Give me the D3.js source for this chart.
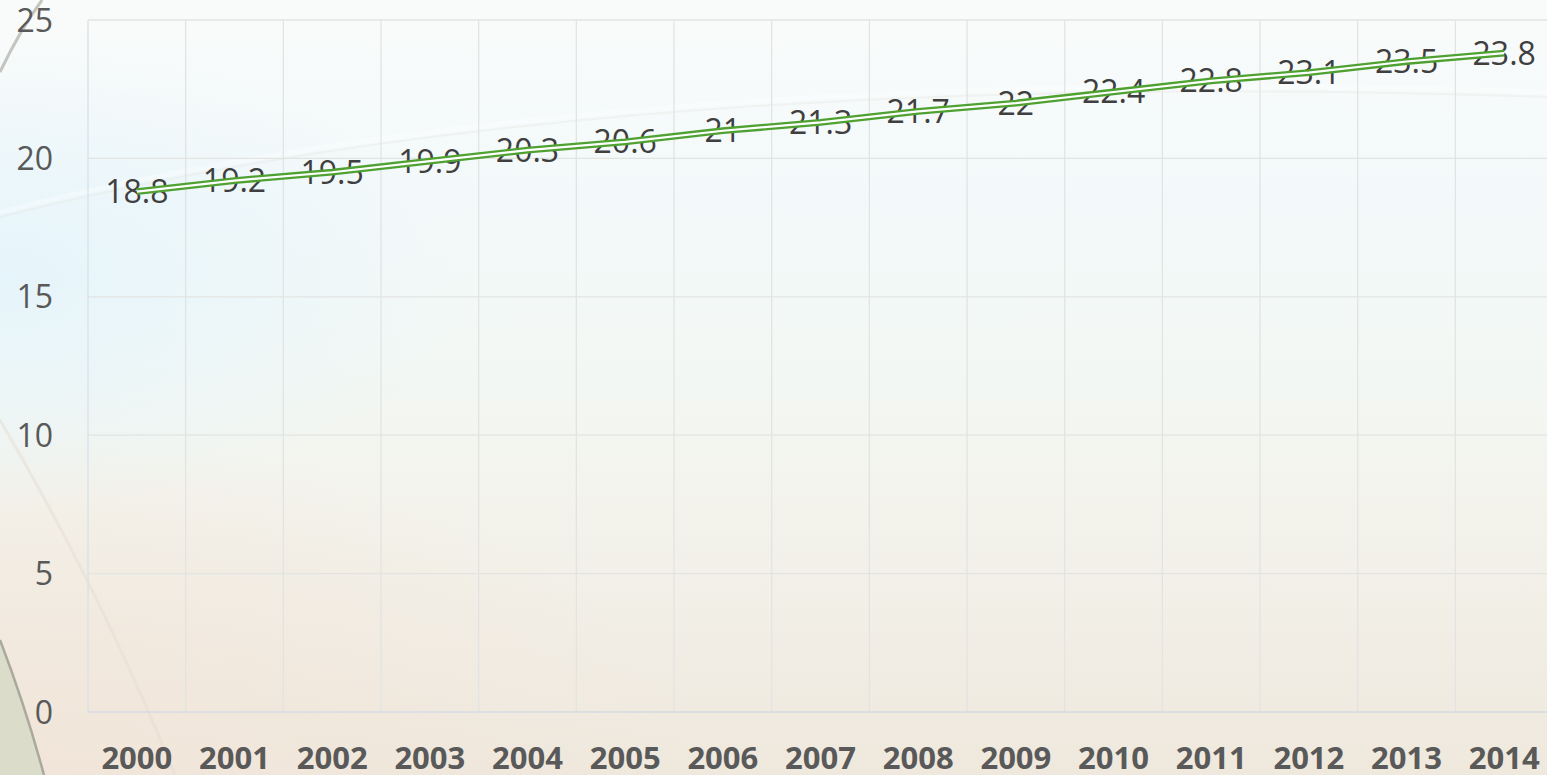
<!DOCTYPE html>
<html>
<head>
<meta charset="utf-8">
<script src="https://cdn.jsdelivr.net/npm/d3@7"></script>
<style>
  html, body { margin: 0; padding: 0; overflow: hidden; }
  svg { display: block; }
</style>
</head>
<body>
<svg id="canvas"></svg>
<script>
const years = ["2000","2001","2002","2003","2004","2005","2006","2007","2008","2009","2010","2011","2012","2013","2014"]
const values = [18.8, 19.2, 19.5, 19.9, 20.3, 20.6, 21, 21.3, 21.7, 22, 22.4, 22.8, 23.1, 23.5, 23.8]
const yTicks = [0, 5, 10, 15, 20, 25]

const width = 1547
const height = 775
const plotLeft = 88
const plotTop = 20
const plotBottom = 712
const band = 97.67

let svg = d3.select("#canvas").attr("width", width).attr("height", height)

// background, slide theme look
let defs = svg.append("defs")
let bg = defs.append("linearGradient").attr("id", "bg").attr("x1", 0).attr("y1", 0).attr("x2", 0).attr("y2", 1)
bg.append("stop").attr("offset", "0%").attr("stop-color", "#f9fbfa")
bg.append("stop").attr("offset", "25%").attr("stop-color", "#f3f9fa")
bg.append("stop").attr("offset", "45%").attr("stop-color", "#f3f8f5")
bg.append("stop").attr("offset", "65%").attr("stop-color", "#f3f3ec")
bg.append("stop").attr("offset", "100%").attr("stop-color", "#efe8dd")

let blue = defs.append("radialGradient").attr("id", "blue").attr("cx", 0).attr("cy", 0.36).attr("r", 0.3)
blue.append("stop").attr("offset", "0%").attr("stop-color", "#e4f4fb").attr("stop-opacity", 0.9)
blue.append("stop").attr("offset", "100%").attr("stop-color", "#e4f4fb").attr("stop-opacity", 0)

let warm = defs.append("radialGradient").attr("id", "warm").attr("cx", 0).attr("cy", 1).attr("r", 0.45)
warm.append("stop").attr("offset", "0%").attr("stop-color", "#f2e5d9").attr("stop-opacity", 0.9)
warm.append("stop").attr("offset", "100%").attr("stop-color", "#f2e5d9").attr("stop-opacity", 0)

svg.append("rect").attr("width", width).attr("height", height).attr("fill", "url(#bg)")
svg.append("rect").attr("width", width).attr("height", height).attr("fill", "url(#warm)")
svg.append("rect").attr("width", width).attr("height", height).attr("fill", "url(#blue)")

// decorative arcs
svg.append("path")
    .attr("d", "M0,212 Q600,60 1547,92")
    .attr("fill", "none").attr("stroke", "#ffffff").attr("stroke-width", 5).attr("opacity", 0.35)
svg.append("path")
    .attr("d", "M0,217 Q600,65 1547,97")
    .attr("fill", "none").attr("stroke", "#e4e4de").attr("stroke-width", 2).attr("opacity", 0.35)
svg.append("path")
    .attr("d", "M0,72 Q20,30 42,0")
    .attr("fill", "none").attr("stroke", "#b8b8b2").attr("stroke-width", 3).attr("opacity", 0.8)
svg.append("path")
    .attr("d", "M0,420 Q100,590 175,775")
    .attr("fill", "none").attr("stroke", "#e5ded3").attr("stroke-width", 3).attr("opacity", 0.55)
svg.append("path")
    .attr("d", "M0,640 Q25,705 44,775 L0,775 Z")
    .attr("fill", "#dcdccb")
svg.append("path")
    .attr("d", "M0,640 Q25,705 44,775")
    .attr("fill", "none").attr("stroke", "#a9a99d").attr("stroke-width", 2.5)

// scales
let xScale = d3.scaleBand().domain(years).range([plotLeft, plotLeft + band * years.length])
let yScale = d3.scaleLinear().domain([0, 25]).range([plotBottom, plotTop])

// gridlines
svg.append("g").selectAll("line")
    .data(yTicks.filter(d => d > 0))
    .enter().append("line")
    .attr("x1", plotLeft).attr("x2", width + 10)
    .attr("y1", d => yScale(d)).attr("y2", d => yScale(d))
    .attr("stroke", "#e2e4e2").attr("stroke-width", 1.3)

svg.append("g").selectAll("line")
    .data(years)
    .enter().append("line")
    .attr("x1", d => xScale(d) + xScale.bandwidth()).attr("x2", d => xScale(d) + xScale.bandwidth())
    .attr("y1", plotTop).attr("y2", plotBottom)
    .attr("stroke", "#e2e4e2").attr("stroke-width", 1.3)

svg.append("line")
    .attr("x1", plotLeft).attr("x2", plotLeft).attr("y1", plotTop).attr("y2", plotBottom)
    .attr("stroke", "#d8e0e8").attr("stroke-width", 1.3)
svg.append("line")
    .attr("x1", plotLeft).attr("x2", width + 10).attr("y1", plotBottom).attr("y2", plotBottom)
    .attr("stroke", "#d4dbe3").attr("stroke-width", 1.5)

// y axis labels
svg.append("g").selectAll("text")
    .data(yTicks)
    .enter().append("text")
    .attr("x", 53).attr("y", d => yScale(d))
    .attr("dy", "0.36em")
    .attr("text-anchor", "end")
    .attr("font-family", "Open Sans")
    .attr("font-size", 32)
    .attr("fill", "#595959")
    .text(d => d)

// x axis labels
svg.append("g").selectAll("text")
    .data(years)
    .enter().append("text")
    .attr("x", d => xScale(d) + xScale.bandwidth() / 2)
    .attr("y", 769)
    .attr("text-anchor", "middle")
    .attr("font-family", "Open Sans")
    .attr("font-weight", "bold")
    .attr("font-size", 31)
    .attr("fill", "#595959")
    .text(d => d)

// data labels (line is drawn over them, as in the source)
svg.append("g").selectAll("text")
    .data(values)
    .enter().append("text")
    .attr("x", (d, i) => xScale(years[i]) + xScale.bandwidth() / 2)
    .attr("y", d => yScale(d))
    .attr("dy", "0.36em")
    .attr("text-anchor", "middle")
    .attr("font-family", "Open Sans")
    .attr("font-size", 32)
    .attr("fill", "#3f3f3f")
    .text(d => d)

// line: compound green/white stroke
let line = d3.line()
    .x((d, i) => xScale(years[i]) + xScale.bandwidth() / 2)
    .y(d => yScale(d))

svg.append("path")
    .datum(values)
    .attr("d", line)
    .attr("fill", "none")
    .attr("stroke", "#4fa232")
    .attr("stroke-width", 6.8)

svg.append("path")
    .datum(values)
    .attr("d", line)
    .attr("fill", "none")
    .attr("stroke", "#ffffff")
    .attr("stroke-width", 2.2)
</script>
</body>
</html>
